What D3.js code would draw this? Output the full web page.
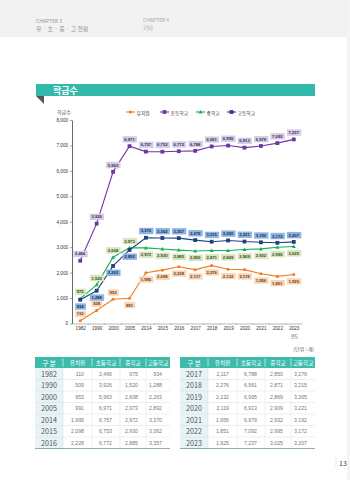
<!DOCTYPE html>
<html>
<head>
<meta charset="utf-8">
<script src="https://cdn.jsdelivr.net/npm/d3@7"></script>
<style>
  body { margin: 0; background: #fff; }
  svg { display: block; font-family: "Noto Sans CJK KR", "Noto Sans", sans-serif; }
</style>
</head>
<body>
<div id="page"></div>
<script>
const width = 350, height = 480;

// data
const years = ["1982", "1990", "2000", "2005", "2014", "2015", "2016", "2017", "2018", "2019", "2020", "2021", "2022", "2023"];
const kinder = [110, 509, 953, 991, 1995, 2098, 2228, 2117, 2276, 2132, 2119, 1956, 1851, 1925];
const elem = [2466, 3926, 5963, 6971, 6757, 6753, 6772, 6788, 6961, 6995, 6913, 6979, 7092, 7237];
const middle = [975, 1520, 2608, 2973, 2972, 2930, 2885, 2850, 2871, 2869, 2909, 2932, 2995, 3025];
const high = [934, 1288, 2263, 2892, 3370, 3362, 3357, 3279, 3215, 3265, 3221, 3192, 3172, 3207];
const seriesNames = ["유치원", "초등학교", "중학교", "고등학교"];
const yTicks = [0, 1000, 2000, 3000, 4000, 5000, 6000, 7000, 8000];

const svg = d3.select("#page").append("svg")
    .attr("width", width).attr("height", height);

// page header
svg.append("rect").attr("width", width).attr("height", 37).attr("fill", "#f2f2f2");
svg.append("rect").attr("x", 347).attr("width", 3).attr("height", height).attr("fill", "#f4f4f4");
svg.append("text").attr("x", 36).attr("y", 23).text("CHAPTER 3")
    .attr("font-size", 5).attr("fill", "#999");
svg.append("text").attr("x", 36).attr("y", 31).text("유 · 초 · 중 · 고 현황")
    .attr("font-size", 6).attr("fill", "#999");
svg.append("text").attr("x", 143).attr("y", 22).text("CHAPTER 4")
    .attr("font-size", 5).attr("fill", "#aaa");
svg.append("text").attr("x", 143).attr("y", 30).text("기타")
    .attr("font-size", 5.5).attr("fill", "#aaa");

// section banner
svg.append("rect").attr("x", 36).attr("y", 84).attr("width", 279).attr("height", 12).attr("fill", "#33b9a9");
svg.append("path").attr("d", "M36,96 L44,96 L44,104 Z").attr("fill", "#555");
svg.append("text").attr("x", 53).attr("y", 93.5).text("학급수")
    .attr("font-size", 9).attr("font-weight", "bold").attr("fill", "#fff");

// scales
const x = d3.scalePoint().domain(years).range([72, 302]).padding(0.5);
const y = d3.scaleLinear().domain([0, 8000]).range([323.5, 120]);

// y axis
const yAxis = svg.append("g")
    .attr("transform", "translate(72,0)")
    .call(d3.axisLeft(y).tickValues(yTicks).tickSize(2).tickSizeOuter(0).tickPadding(2)
        .tickFormat(d => d === 0 ? "0" : d3.format(",")(d)));
yAxis.select(".domain").attr("stroke", "#444").attr("stroke-width", 0.8);
yAxis.selectAll(".tick line").attr("stroke", "#444").attr("stroke-width", 0.5);
yAxis.selectAll("text").attr("font-size", 4.6).attr("fill", "#333").attr("font-family", "Liberation Sans, sans-serif");

svg.append("text").attr("x", 57).attr("y", 114).text("학급수")
    .attr("font-size", 5).attr("fill", "#444");

// x axis
const xAxis = svg.append("g")
    .attr("transform", "translate(0,323.5)")
    .call(d3.axisBottom(x).tickSize(0).tickPadding(3));
xAxis.select(".domain").attr("stroke", "#888").attr("stroke-width", 0.6);
xAxis.selectAll("text").attr("font-size", 4.6).attr("fill", "#333").attr("font-family", "Liberation Sans, sans-serif");
// small ticks between categories
svg.append("g").selectAll("line")
    .data(years.slice(1))
    .join("line")
    .attr("x1", d => x(d) - x.step() / 2).attr("x2", d => x(d) - x.step() / 2)
    .attr("y1", 323.5).attr("y2", 325)
    .attr("stroke", "#888").attr("stroke-width", 0.5);
svg.append("text").attr("x", x("2023") + 1).attr("y", 337.5).text("연도")
    .attr("font-size", 4.2).attr("fill", "#444").attr("text-anchor", "middle");

// series definitions
const series = [
  { name: seriesNames[0], values: kinder, color: "#f07c20", box: "#fbd5b5", text: "#5a3a1a", marker: "circle",
    place: i => i < 3 ? -1 : 1 },
  { name: seriesNames[1], values: elem, color: "#7233a6", box: "#d5cde6", text: "#3a2a55", marker: "square",
    place: i => -1 },
  { name: seriesNames[2], values: middle, color: "#12b354", box: "#d8e5bf", text: "#3a4a1a", marker: "triangle",
    place: i => i < 4 ? -1 : 1 },
  { name: seriesNames[3], values: high, color: "#22407f", box: "#8fb4e3", text: "#1a2a4a", marker: "square",
    place: i => i < 4 ? 1 : -1 }
];

function drawMarker(g, s, cx, cy) {
  if (s.marker === "circle") {
    g.append("circle").attr("cx", cx).attr("cy", cy).attr("r", 1.5).attr("fill", s.color);
  } else if (s.marker === "square") {
    g.append("rect").attr("x", cx - 1.9).attr("y", cy - 1.9).attr("width", 3.8).attr("height", 3.8).attr("fill", s.color);
  } else {
    g.append("path").attr("d", `M${cx},${cy - 2} L${cx + 2},${cy + 1.5} L${cx - 2},${cy + 1.5} Z`).attr("fill", s.color);
  }
}

const line = d3.line().x((d, i) => x(years[i])).y(d => y(d));

// draw lines first, then markers, then labels
series.forEach(s => {
  svg.append("path").datum(s.values)
    .attr("d", line).attr("fill", "none")
    .attr("stroke", s.color).attr("stroke-width", 1.1);
});
series.forEach(s => {
  const g = svg.append("g");
  s.values.forEach((v, i) => drawMarker(g, s, x(years[i]), y(v)));
});
series.forEach(s => {
  const g = svg.append("g");
  s.values.forEach((v, i) => {
    const cx = x(years[i]), cy = y(v) + s.place(i) * 6.8;
    const lg = g.append("g");
    const t = lg.append("text").attr("x", cx).attr("y", cy)
      .attr("text-anchor", "middle").attr("dominant-baseline", "central")
      .attr("font-size", 4.2).attr("font-weight", "bold")
      .attr("font-family", "Liberation Sans, sans-serif")
      .attr("fill", s.text).text(d3.format(",")(v));
    const b = t.node().getBBox();
    lg.insert("rect", "text")
      .attr("x", b.x - 1.6).attr("y", cy - 3.2)
      .attr("width", b.width + 3.2).attr("height", 6.4)
      .attr("fill", s.box);
  });
});

// legend
const legendX = [126, 160, 196, 227];
series.forEach((s, i) => {
  const g = svg.append("g").attr("transform", `translate(${legendX[i]},112)`);
  g.append("line").attr("x1", 0).attr("x2", 9).attr("stroke", s.color).attr("stroke-width", 1.1);
  drawMarker(g, s, 4.5, 0);
  g.append("text").attr("x", 10.5).attr("y", 0).attr("dominant-baseline", "central")
    .attr("font-size", 4.8).attr("fill", "#333").text(s.name);
});

// unit note
svg.append("text").attr("x", 314).attr("y", 351).attr("text-anchor", "end")
  .attr("font-size", 5).attr("fill", "#555").text("(단위 : 개)");

// tables
const colW = [28, 29, 28, 26, 24];
const headers = ["구  분", "유치원", "초등학교", "중학교", "고등학교"];
const headY = 357, headH = 11, rowH = 11.5;

function drawTable(x0, idx) {
  const g = svg.append("g");
  const cols = [0];
  colW.forEach(w => cols.push(cols[cols.length - 1] + w));
  const totalW = cols[cols.length - 1];
  // header
  g.append("rect").attr("x", x0).attr("y", headY).attr("width", totalW).attr("height", headH).attr("fill", "#3dbcab");
  headers.forEach((h, c) => {
    g.append("text").attr("x", x0 + (cols[c] + cols[c + 1]) / 2).attr("y", headY + headH / 2)
      .attr("text-anchor", "middle").attr("dominant-baseline", "central")
      .attr("font-size", c === 0 ? 6.5 : 5.6).attr("fill", "#fff").text(h);
    if (c > 0) {
      g.append("line").attr("x1", x0 + cols[c]).attr("x2", x0 + cols[c])
        .attr("y1", headY + 1.5).attr("y2", headY + headH - 1.5)
        .attr("stroke", "#fff").attr("stroke-width", 0.6);
    }
  });
  const bodyY = headY + headH;
  g.append("rect").attr("x", x0).attr("y", bodyY).attr("width", colW[0]).attr("height", rowH * idx.length)
    .attr("fill", "#e6f4f8");
  idx.forEach((k, r) => {
    const ry = bodyY + r * rowH;
    const vals = [kinder[k], elem[k], middle[k], high[k]];
    g.append("text").attr("x", x0 + colW[0] / 2).attr("y", ry + rowH / 2)
      .attr("text-anchor", "middle").attr("dominant-baseline", "central")
      .attr("font-size", 7.2).attr("fill", "#555").text(years[k]);
    vals.forEach((v, c) => {
      g.append("text").attr("x", x0 + cols[c + 2] - 8).attr("y", ry + rowH / 2)
        .attr("text-anchor", "end").attr("dominant-baseline", "central")
        .attr("font-size", 5.2).attr("fill", "#777")
        .attr("font-family", "Liberation Sans, sans-serif")
        .text(d3.format(",")(v));
    });
    if (r > 0) {
      g.append("line").attr("x1", x0).attr("x2", x0 + totalW).attr("y1", ry).attr("y2", ry)
        .attr("stroke", "#d6dde0").attr("stroke-width", 0.5);
    }
  });
  for (let c = 1; c < colW.length; c++) {
    g.append("line").attr("x1", x0 + cols[c]).attr("x2", x0 + cols[c])
      .attr("y1", bodyY).attr("y2", bodyY + rowH * idx.length)
      .attr("stroke", c === 1 ? "#bfe0ea" : "#dde3e5").attr("stroke-width", 0.5);
  }
  g.append("line").attr("x1", x0).attr("x2", x0 + totalW)
    .attr("y1", bodyY + rowH * idx.length).attr("y2", bodyY + rowH * idx.length)
    .attr("stroke", "#5a8a90").attr("stroke-width", 0.7);
}
drawTable(35, [0, 1, 2, 3, 4, 5, 6]);
drawTable(180, [7, 8, 9, 10, 11, 12, 13]);

// page number
svg.append("line").attr("x1", 336).attr("x2", 336).attr("y1", 457).attr("y2", 468)
  .attr("stroke", "#ccc").attr("stroke-width", 0.5);
svg.append("text").attr("x", 339).attr("y", 466).attr("font-size", 7).attr("fill", "#444").text("13");
</script>
</body>
</html>
